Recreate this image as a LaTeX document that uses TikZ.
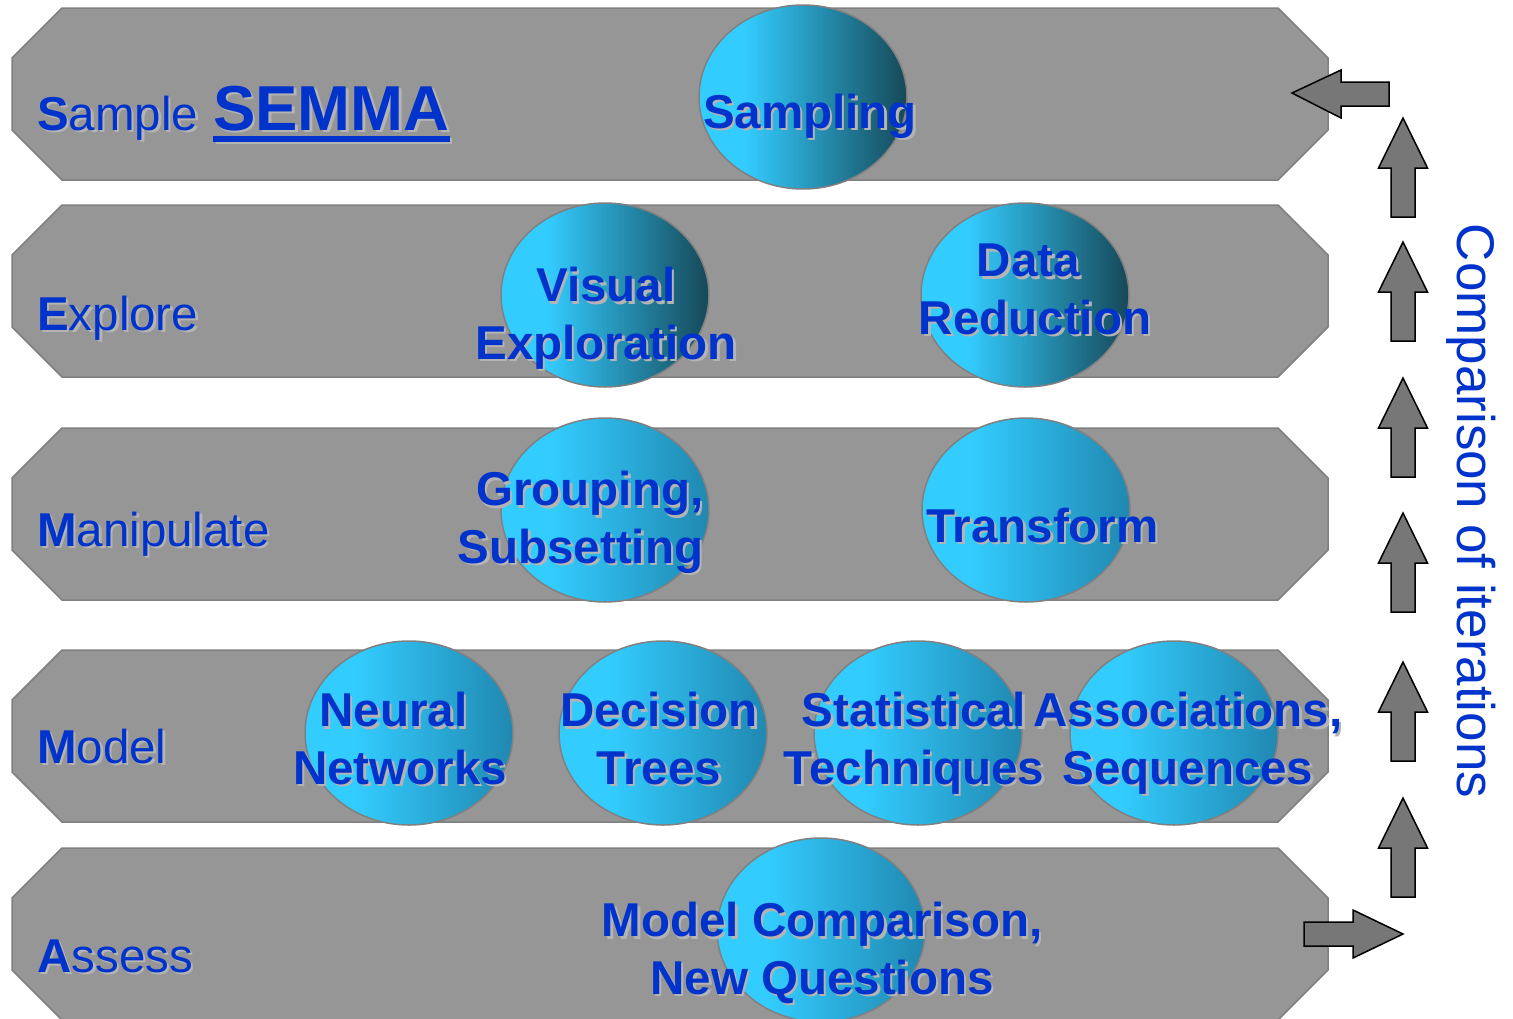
\documentclass[tikz,border=0pt]{standalone}
\usepackage{fontspec}
\setmainfont{Liberation Sans}
\usetikzlibrary{shapes.geometric,calc}
\definecolor{bandfill}{RGB}{150,150,150}
\definecolor{bandline}{RGB}{128,128,128}
\definecolor{txtblue}{RGB}{0,51,204}
\definecolor{shadowgray}{RGB}{180,180,180}
\definecolor{cyanA}{RGB}{51,204,255}
\definecolor{tealdark}{RGB}{22,72,88}
\definecolor{teallight}{RGB}{32,136,176}
\definecolor{arrowfill}{RGB}{119,119,119}
\pgfdeclarehorizontalshading{darkball}{100bp}{color(0bp)=(cyanA); color(36bp)=(cyanA); color(75bp)=(tealdark); color(100bp)=(tealdark)}
\pgfdeclarehorizontalshading{lightball}{100bp}{color(0bp)=(cyanA); color(37bp)=(cyanA); color(75bp)=(teallight); color(100bp)=(teallight)}
\tikzset{
  band/.style={fill=bandfill, draw=bandline, line width=1.5pt},
  ball/.style={ellipse, draw=bandline, line width=1.5pt, minimum width=208pt, minimum height=184pt, inner sep=0pt, shade},
  balldark/.style={ball, shading=darkball},
  balllight/.style={ball, shading=lightball},
  lbl/.style={text=txtblue, inner sep=0pt, font=\fontsize{47.5}{57.5}\selectfont},
  ttl/.style={text=txtblue, inner sep=0pt, font=\bfseries\fontsize{47.5}{57.5}\selectfont, align=center},
  blockarrow/.style={fill=arrowfill, draw=black, line width=1.5pt, line join=miter},
  uparrow/.pic={\draw[blockarrow] (0,0) -- (24.5,50) -- (12,50) -- (12,99) -- (-12,99) -- (-12,50) -- (-24.5,50) -- cycle;}
}
\newcommand\twin[4]{%
  \node[#1, text=shadowgray, xshift=2.5pt, yshift=-2.5pt] (#3-sh) at #2 {#4};
  \node[#1] (#3) at #2 {#4};}
\newcommand\bandshape[1]{%
  \draw[band] (62,#1) -- (1278,#1) -- (1328,#1+50) -- (1328,#1+122) -- (1278,#1+172) -- (62,#1+172) -- (12,#1+122) -- (12,#1+50) -- cycle;}
\begin{document}
\begin{tikzpicture}[x=1pt,y=-1pt]
\useasboundingbox (0,0) rectangle (1513,1018);
\clip (0,0) rectangle (1513,1018);
% bands
\bandshape{8}
\bandshape{205}
\bandshape{428}
\bandshape{650}
\bandshape{848}
% ellipses
\node[balldark] (e-samp) at (803,97) {};
\node[balldark] (e-vis) at (605,295) {};
\node[balldark] (e-data) at (1025,295) {};
\node[balllight] (e-grp) at (605,510) {};
\node[balllight] (e-trf) at (1026,510) {};
\node[balllight] (e-nn) at (409,733) {};
\node[balllight] (e-dt) at (663,733) {};
\node[balllight] (e-st) at (918,733) {};
\node[balllight] (e-as) at (1174,733) {};
\node[balllight] (e-mc) at (821,930) {};
% band labels
\twin{lbl, anchor=base west}{(37,130)}{l-sample}{{\bfseries S}ample}
\twin{lbl, anchor=base west, font=\bfseries\fontsize{63.5}{70}\selectfont}{(213,130)}{semma}{SEMMA}
\draw[shadowgray, line width=6pt] ($(semma-sh.base west)+(0,8.5)$) -- ($(semma-sh.base east)+(0,8.5)$);
\draw[txtblue, line width=6pt] ($(semma.base west)+(0,8.5)$) -- ($(semma.base east)+(0,8.5)$);
\twin{lbl, anchor=base west}{(37,330)}{l-explore}{{\bfseries E}xplore}
\twin{lbl, anchor=base west}{(37,546)}{l-manip}{{\bfseries M}anipulate}
\twin{lbl, anchor=base west}{(37,763)}{l-model}{{\bfseries M}odel}
\twin{lbl, anchor=base west}{(37,972)}{l-assess}{{\bfseries A}ssess}
% ellipse texts
\twin{ttl, anchor=base}{(810,128)}{t-samp}{Sampling}
\twin{ttl}{(606,319)}{t-vis}{\strut Visual\\\strut Exploration}
\twin{ttl}{(1035,294)}{t-data}{\strut Data\kern0.28em\\\strut Reduction}
\twin{ttl, align=right}{(580.5,523)}{t-grp}{\strut Grouping,\\\strut Subsetting}
\twin{ttl, anchor=base}{(1042.5,542)}{t-trf}{Transform}
\twin{ttl}{(400,744)}{t-nn}{\strut Neural\kern0.28em\\\strut Networks}
\twin{ttl}{(659,744)}{t-dt}{\strut Decision\\\strut Trees}
\twin{ttl}{(914,744)}{t-st}{\strut Statistical\\\strut Techniques}
\twin{ttl}{(1188,744)}{t-as}{\strut Associations,\\\strut Sequences}
\twin{ttl}{(822,954)}{t-mc}{\strut Model Comparison,\\\strut New Questions}
% iteration arrows
\coordinate (la-tip) at (1292,93);
\draw[blockarrow] (la-tip) -- ++(49,-23) -- ++(0,12) -- ++(48,0) -- ++(0,24) -- ++(-48,0) -- ++(0,12) -- cycle;
\coordinate (ra-tip) at (1403,934);
\draw[blockarrow] (ra-tip) -- ++(-50,-24) -- ++(0,12) -- ++(-49,0) -- ++(0,24) -- ++(49,0) -- ++(0,12) -- cycle;
\foreach \ty [count=\i] in {118,242,378,513,662,798}{
  \coordinate (ua\i) at (1403,\ty);
  \pic at (ua\i) {uparrow};
}
\node[text=txtblue, inner sep=0pt, font=\fontsize{53}{60}\selectfont, rotate=-90, anchor=base] (iter) at (1457,511) {Comparison of iterations};
\end{tikzpicture}
\end{document}
